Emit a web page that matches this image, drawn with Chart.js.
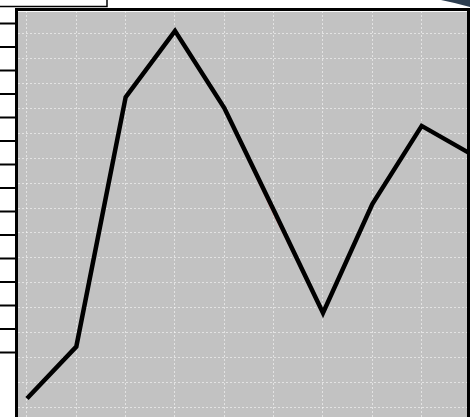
<!DOCTYPE html>
<html>
<head>
<meta charset="utf-8">
<script src="https://cdn.jsdelivr.net/npm/chart.js@4/dist/chart.umd.min.js"></script>
<style>
  html, body { margin: 0; padding: 0; background: #fff; overflow: hidden; }
  canvas { display: block; }
</style>
</head>
<body>
<canvas id="chart" width="470" height="417"></canvas>
<script>
const xValues = [1, 2, 3, 4, 5, 6, 7, 8, 9, 10]
const lineValues = [3.4, 24.3, 124.6, 151.2, 120.2, 79.2, 37.8, 81.6, 113.0, 101.7]
const redValues = [null, null, null, null, 120.2, 77.4, 37.8, null, null, null]
const xTicks = [1, 2, 3, 4, 5, 6, 7, 8, 9]
const yTicks = [0, 10, 20, 30, 40, 50, 60, 70, 80, 90, 100, 110, 120, 130, 140, 150]

const toPoints = (values) => values.map((v, i) => ({ x: xValues[i], y: v }))

// gray plot background, black frame and the bits of page around it
const framePlugin = {
    id: "frame",
    beforeDraw(chart) {
        const { ctx, chartArea: a } = chart
        ctx.save()
        ctx.fillStyle = "#c2c2c2"
        ctx.fillRect(a.left, a.top, a.right - a.left, a.bottom - a.top)
        ctx.restore()
    },
    afterDraw(chart) {
        const { ctx, chartArea: a } = chart
        ctx.save()
        ctx.strokeStyle = "rgba(255,255,255,0.9)"
        ctx.lineWidth = 1
        ctx.beginPath()
        ctx.moveTo(a.left, a.top + 0.5)
        ctx.lineTo(a.right, a.top + 0.5)
        ctx.stroke()

        ctx.strokeStyle = "#000"
        ctx.lineWidth = 3
        ctx.beginPath()
        ctx.moveTo(a.left - 1.5, 417)
        ctx.lineTo(a.left - 1.5, a.top - 1.5)
        ctx.lineTo(a.right + 1.5, a.top - 1.5)
        ctx.lineTo(a.right + 1.5, 417)
        ctx.stroke()

        // row lines of the table on the left
        ctx.lineWidth = 2
        for (let k = 0; k < 15; k++) {
            const y = 23.5 + k * 23.5
            ctx.beginPath()
            ctx.moveTo(0, y)
            ctx.lineTo(a.left - 1.5, y)
            ctx.stroke()
        }

        // box above the plot
        ctx.lineWidth = 1.5
        ctx.beginPath()
        ctx.moveTo(0, 6.5)
        ctx.lineTo(107, 6.5)
        ctx.lineTo(107, 0)
        ctx.stroke()

        // dark corner shape top right
        ctx.fillStyle = "#2d3e50"
        ctx.beginPath()
        ctx.moveTo(441, 0)
        ctx.quadraticCurveTo(456, 3, 470, 7)
        ctx.lineTo(470, 0)
        ctx.closePath()
        ctx.fill()
        ctx.restore()
    }
}

const gridOpts = {
    color: "rgba(255,255,255,0.55)",
    lineWidth: 1,
    drawTicks: false
}
const borderOpts = { display: false, dash: [2, 2] }

new Chart(document.getElementById("chart"), {
    type: "line",
    data: {
        datasets: [{
            data: toPoints(lineValues),
            borderColor: "#000",
            borderWidth: 4.5,
            borderJoinStyle: "miter",
            pointRadius: 0,
            tension: 0
        }, {
            data: toPoints(redValues),
            borderColor: "#e39c9c",
            borderWidth: 1.5,
            pointRadius: 0,
            tension: 0
        }]
    },
    options: {
        responsive: false,
        animation: false,
        events: [],
        layout: { padding: { left: 18, top: 11, right: 3, bottom: 0 } },
        plugins: { legend: { display: false }, tooltip: { enabled: false } },
        scales: {
            x: {
                type: "linear",
                min: 0.8176,
                max: 9.919,
                ticks: { display: false },
                afterBuildTicks: (scale) => { scale.ticks = xTicks.map((v) => ({ value: v })) },
                grid: gridOpts,
                border: borderOpts
            },
            y: {
                type: "linear",
                min: -4.02,
                max: 159.2,
                ticks: { display: false },
                afterBuildTicks: (scale) => { scale.ticks = yTicks.map((v) => ({ value: v })) },
                grid: gridOpts,
                border: borderOpts
            }
        }
    },
    plugins: [framePlugin]
})
</script>
</body>
</html>
